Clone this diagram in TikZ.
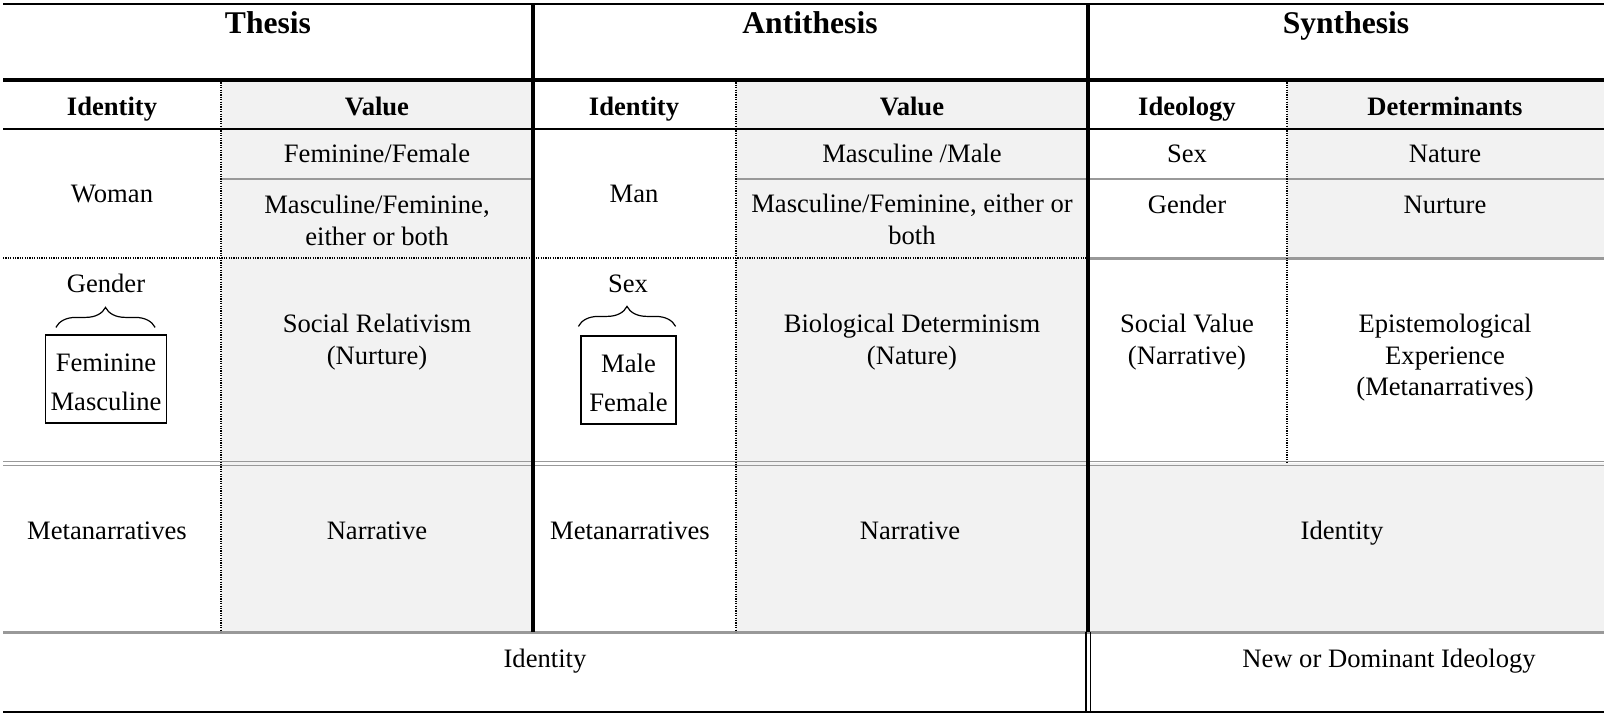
\documentclass[tikz,border=0pt]{standalone}
\usepackage{fontspec}
\setmainfont{Liberation Serif}
\usetikzlibrary{positioning}
\usetikzlibrary{calc}
\usetikzlibrary{decorations.pathreplacing}
\definecolor{cellgray}{RGB}{242,242,242}
\definecolor{rulegray}{RGB}{153,153,153}

\begin{document}
\begin{tikzpicture}[x=0.5pt, y=-0.5pt,
    txt/.style={anchor=base, inner sep=0pt, font=\fontsize{13.3}{15.75}\selectfont},
    multi/.style={anchor=north, align=center, inner sep=0pt, font=\fontsize{13.3}{15.75}\selectfont},
    head/.style={anchor=base, inner sep=0pt, font=\fontsize{13.3}{15.75}\selectfont\bfseries},
    title/.style={anchor=base, inner sep=0pt, font=\fontsize{15.8}{18}\selectfont\bfseries},
    valbox/.style={draw, line width=0.6pt, align=center, inner sep=0pt, minimum height=44pt, font=\fontsize{13.3}{19.2}\selectfont},
    brc/.style={decorate, decoration={brace, amplitude=10pt}, line width=0.6pt},
    dotrule/.style={line width=0.7pt, dash pattern=on 0.6pt off 0.6pt},
    grayrule/.style={line width=1.5pt, rulegray}]
    \useasboundingbox (0,0) rectangle (1606,713);

    % shaded cells
    \fill[cellgray] (221,80) rectangle (533,632);
    \fill[cellgray] (736,80) rectangle (1088,632);
    \fill[cellgray] (1287,80) rectangle (1604,258);
    \fill[cellgray] (1088,463) rectangle (1604,632);

    % horizontal rules
    \draw[line width=1pt] (3,4) -- (1604,4);
    \draw[line width=1.6pt] (3,80) -- (1604,80);
    \draw[line width=0.8pt] (3,129) -- (1604,129);
    \draw[line width=0.8pt, rulegray] (221,179) -- (533,179);
    \draw[line width=0.8pt, rulegray] (736,179) -- (1604,179);
    \draw[dotrule] (3,258) -- (1088,258);
    \draw[grayrule] (1088,258) -- (1604,258);
    \draw[line width=0.7pt, rulegray] (3,461.5) -- (1604,461.5);
    \draw[line width=0.7pt, rulegray] (3,465.5) -- (1604,465.5);
    \draw[grayrule] (3,632) -- (1604,632);
    \draw[line width=1pt] (3,711.5) -- (1604,711.5);

    % vertical rules
    \draw[dotrule] (221,80) -- (221,632);
    \draw[dotrule] (736,80) -- (736,632);
    \draw[dotrule] (1287,80) -- (1287,463);
    \draw[line width=2pt] (533,4) -- (533,632);
    \draw[line width=2pt] (1088,4) -- (1088,632);
    \draw[line width=0.7pt] (1086,632) -- (1086,712);
    \draw[line width=0.7pt] (1090.5,632) -- (1090.5,712);

    % titles
    \node[title] (thesis) at (268,33) {Thesis};
    \node[title] (antithesis) at (810,33) {Antithesis};
    \node[title] (synthesis) at (1346,33) {Synthesis};

    % column heads
    \node[head] (thId) at (112,115) {Identity};
    \node[head] (thVal) at (377,115) {Value};
    \node[head] (anId) at (634,115) {Identity};
    \node[head] (anVal) at (912,115) {Value};
    \node[head] (syIdeo) at (1187,115) {Ideology};
    \node[head] (syDet) at (1445,115) {Determinants};

    % Thesis
    \node[txt] (woman) at (112,202) {Woman};
    \node[txt] (thVal1) at (377,162) {Feminine/Female};
    \node[multi] (thVal2) at (377,195) {Masculine/Feminine,\\either or both};
    \node[txt] (thGender) at (106,292) {Gender};
    \node[valbox, minimum width=60.5pt] (thBox) at (106,379) {\rule{0pt}{12.2pt}Feminine\\Masculine};
    \draw[brc] ([xshift=5.5pt, yshift=3.5pt]thBox.north west) -- ([xshift=-6pt, yshift=3.5pt]thBox.north east);
    \node[multi] (thSocial) at (377,314) {Social Relativism\\(Nurture)};
    \node[txt] (thMeta) at (107,539) {Metanarratives};
    \node[txt] (thNarr) at (377,539) {Narrative};

    % Antithesis
    \node[txt] (man) at (634,202) {Man};
    \node[txt] (anVal1) at (912,162) {Masculine /Male};
    \node[multi] (anVal2) at (912,194) {Masculine/Feminine, either or\\both};
    \node[txt] (anSex) at (628,292) {Sex};
    \node[valbox, minimum width=47.5pt] (anBox) at (628.5,380) {\rule{0pt}{12.2pt}Male\\Female};
    \draw[brc] ([xshift=-1pt, yshift=4.5pt]anBox.north west) -- ([xshift=-0.5pt, yshift=4.5pt]anBox.north east);
    \node[multi] (anBio) at (912,314) {Biological Determinism\\(Nature)};
    \node[txt] (anMeta) at (630,539) {Metanarratives};
    \node[txt] (anNarr) at (910,539) {Narrative};

    % Synthesis
    \node[txt] (sySex) at (1187,162) {Sex};
    \node[txt] (syNat) at (1445,162) {Nature};
    \node[txt] (syGen) at (1187,213) {Gender};
    \node[txt] (syNur) at (1445,213) {Nurture};
    \node[multi] (sySocial) at (1187,314) {Social Value\\(Narrative)};
    \node[multi] (syEpist) at (1445,314) {Epistemological\\Experience\\(Metanarratives)};
    \node[txt] (syIdent) at (1342,539) {Identity};

    % bottom row
    \node[txt] (identity) at (545,667) {Identity};
    \node[txt] (newIdeo) at (1389,667) {New or Dominant Ideology};
\end{tikzpicture}
\end{document}
